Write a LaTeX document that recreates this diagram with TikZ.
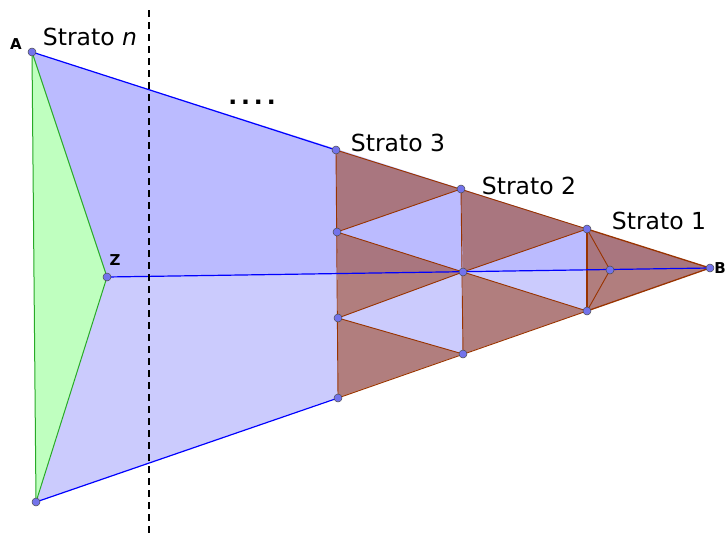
\documentclass[tikz,border=0pt]{standalone}
\usepackage{fontspec}
\setmainfont{DejaVu Sans}
\usepackage{tikz}
\usetikzlibrary{calc}
\definecolor{upblue}{RGB}{187,187,255}
\definecolor{lowblue}{RGB}{203,203,253}
\definecolor{ggbgreen}{RGB}{191,255,191}
\definecolor{edgegreen}{RGB}{40,170,40}
\definecolor{ggbbrown}{RGB}{153,51,0}
\definecolor{ptblue}{RGB}{115,115,235}
\tikzset{
  brownface/.style={fill=ggbbrown,fill opacity=0.5},
  brownedge/.style={ggbbrown,line width=0.9pt},
  blueedge/.style={blue,line width=1.2pt},
  greenedge/.style={edgegreen,line width=1pt},
  ptmark/.style={circle,fill=ptblue,draw=black!70,line width=0.5pt,inner sep=0pt,minimum size=8pt},
  stratolabel/.style={font=\fontsize{23.5}{28}\selectfont},
  ptlabel/.style={font=\fontsize{15}{18}\selectfont\bfseries}
}

\begin{document}
\begin{tikzpicture}[x=1pt,y=-1pt]
      \useasboundingbox (0,0) rectangle (726,533);
      \clip (0,0) rectangle (726,533);
      \coordinate (A) at (32,52);
      \coordinate (C) at (36,502);
      \coordinate (Z) at (107,277);
      \coordinate (B) at (710,268);
      \coordinate (T3) at (336,150); \coordinate (P3) at (337,232);
      \coordinate (Q3) at (338,318); \coordinate (U3) at (338,398);
      \coordinate (T2) at (461,189); \coordinate (M2) at (463,272);
      \coordinate (U2) at (463,354);
      \coordinate (T1) at (587,229); \coordinate (U1) at (587,311);
      \coordinate (K) at (610,270);
      \coordinate (dtop) at (149,10); \coordinate (dbot) at (149,533);
      % faces
      \fill[upblue] (A)--(B)--(Z)--cycle;
      \fill[lowblue] (Z)--(B)--(C)--cycle;
      \fill[ggbgreen] (A)--(Z)--(C)--cycle;
      \fill[brownface] (T3)--(T2)--(P3)--cycle;
      \fill[brownface] (P3)--(M2)--(Q3)--cycle;
      \fill[brownface] (Q3)--(U2)--(U3)--cycle;
      \fill[brownface] (T2)--(T1)--(M2)--cycle;
      \fill[brownface] (M2)--(U1)--(U2)--cycle;
      \fill[brownface] (T1)--(B)--(U1)--cycle;
      % edges
      \draw[brownedge] (T3)--(U3); \draw[brownedge] (T2)--(U2);
      \draw[brownedge, line width=1.3pt] (T1)--(U1);
      \draw[brownedge] (P3)--(T2); \draw[brownedge] (P3)--(M2);
      \draw[brownedge] (Q3)--(M2); \draw[brownedge] (Q3)--(U2);
      \draw[brownedge] (M2)--(T1); \draw[brownedge] (M2)--(U1);
      \draw[brownedge] (K)--(T1); \draw[brownedge] (K)--(U1);
      \draw[brownedge, line width=1.3pt] (T1)--(B)--(U1);
      \draw[blueedge] (A)--(T3); \draw[brownedge] (T3)--(T1);
      \draw[blueedge] (C)--(U3); \draw[brownedge] (U3)--(U1);
      \draw[blueedge] (Z)--(B);
      \draw[greenedge] (A)--(C); \draw[greenedge] (A)--(Z);
      \draw[greenedge] (Z)--(C);
      \draw[black,line width=1.4pt,dash pattern=on 7pt off 5pt] (dtop)--(dbot);
      % points
      \foreach \p in {A,C,Z,B,T3,P3,Q3,U3,T2,M2,U2,T1,U1,K}
        \node[ptmark] (pt\p) at (\p) {};
      \node[ptlabel] (labA) at (16,44) {A};
      \node[ptlabel] (labZ) at (115,260) {Z};
      \node[ptlabel] (labB) at (720,268) {B};
      \node[stratolabel] (sn) at (90,37) {Strato \textit{n}};
      \node[stratolabel] (s3) at (398,143) {Strato 3};
      \node[stratolabel] (s2) at (529,186) {Strato 2};
      \node[stratolabel] (s1) at (659,221) {Strato 1};
      \node[stratolabel,font=\fontsize{23.5}{28}\selectfont\bfseries] (dots) at (252,102) {.\,.\,.\,.};
    \end{tikzpicture}
\end{document}
